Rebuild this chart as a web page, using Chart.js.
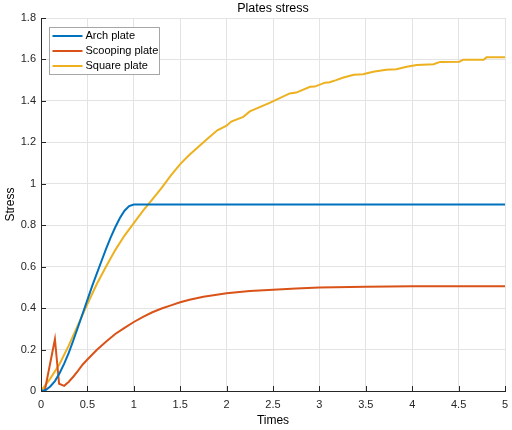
<!DOCTYPE html>
<html>
<head>
<meta charset="utf-8">
<script src="https://cdn.jsdelivr.net/npm/chart.js@4"></script>
<style>
  html, body { margin: 0; padding: 0; background: #fff; }
  #wrap { width: 512px; height: 430px; }
</style>
</head>
<body>
<div id="wrap"><canvas id="stressChart" width="512" height="430"></canvas></div>
<script>
// ================= DATA =================
const seriesNames = ["Arch plate", "Scooping plate", "Square plate"];
const seriesColors = ["#0072BD", "#D95319", "#EDB120"];

const archTimes  = [0, 0.05, 0.1, 0.15, 0.2, 0.25, 0.3, 0.35, 0.4, 0.45, 0.5, 0.55, 0.6, 0.65, 0.7, 0.75, 0.8, 0.85, 0.9, 0.95, 1.0, 5.0];
const archStress = [0, 0.005, 0.022, 0.048, 0.086, 0.132, 0.185, 0.246, 0.31, 0.375, 0.44, 0.505, 0.565, 0.625, 0.685, 0.74, 0.79, 0.835, 0.87, 0.892, 0.9, 0.9];

const scoopTimes  = [0, 0.04, 0.15, 0.195, 0.25, 0.3, 0.35, 0.4, 0.45, 0.5, 0.6, 0.7, 0.8, 0.9, 1.0, 1.1, 1.2, 1.3, 1.4, 1.5, 1.6, 1.75, 2.0, 2.25, 2.5, 2.75, 3.0, 3.5, 4.0, 5.0];
const scoopStress = [0, 0, 0.25, 0.035, 0.025, 0.045, 0.07, 0.098, 0.128, 0.152, 0.198, 0.238, 0.275, 0.305, 0.333, 0.358, 0.38, 0.398, 0.413, 0.428, 0.44, 0.455, 0.472, 0.482, 0.489, 0.495, 0.499, 0.503, 0.505, 0.505];

const squareTimes  = [0, 0.1, 0.2, 0.3, 0.4, 0.5, 0.6, 0.7, 0.8, 0.9, 1.0, 1.1, 1.2, 1.3, 1.4, 1.5, 1.6, 1.7, 1.8, 1.9, 2.0, 2.05, 2.18, 2.25, 2.47, 2.68, 2.75, 2.9, 2.95, 3.06, 3.11, 3.18, 3.26, 3.37, 3.47, 3.58, 3.72, 3.83, 3.94, 4.05, 4.23, 4.3, 4.51, 4.55, 4.77, 4.8, 5.0];
const squareStress = [0, 0.06, 0.13, 0.22, 0.32, 0.42, 0.515, 0.6, 0.68, 0.75, 0.81, 0.87, 0.925, 0.98, 1.04, 1.095, 1.14, 1.18, 1.22, 1.258, 1.28, 1.3, 1.323, 1.349, 1.392, 1.436, 1.44, 1.468, 1.469, 1.488, 1.49, 1.5, 1.513, 1.526, 1.529, 1.541, 1.55, 1.553, 1.565, 1.573, 1.577, 1.588, 1.589, 1.599, 1.599, 1.61, 1.61];

const xTicks = [0, 0.5, 1, 1.5, 2, 2.5, 3, 3.5, 4, 4.5, 5];
const yTicks = [0, 0.2, 0.4, 0.6, 0.8, 1, 1.2, 1.4, 1.6, 1.8];

const FONT = "'Liberation Sans', Arial, Helvetica, sans-serif";
const AXIS_COLOR = "#262626";
const GRID_COLOR = "#e3e3e3";

function toPoints(xs, ys) {
  return xs.map((x, i) => ({ x: x, y: ys[i] }));
}

const allSeries = [
  toPoints(archTimes, archStress),
  toPoints(scoopTimes, scoopStress),
  toPoints(squareTimes, squareStress)
];

// ================= MATLAB-ish decorations =================
// inward tick marks + boxed legend inside the plot
const matlabDecor = {
  id: "matlabDecor",
  afterDatasetsDraw(chart) {
    const ctx = chart.ctx;
    const area = chart.chartArea;
    const xs = chart.scales.x;
    const ys = chart.scales.y;

    ctx.save();
    ctx.strokeStyle = AXIS_COLOR;
    ctx.lineWidth = 1;
    ctx.beginPath();
    xTicks.forEach(v => {
      const px = Math.round(xs.getPixelForValue(v)) + 0.5;
      ctx.moveTo(px, area.bottom);
      ctx.lineTo(px, area.bottom - 5);
    });
    yTicks.forEach(v => {
      const py = Math.round(ys.getPixelForValue(v)) + 0.5;
      ctx.moveTo(area.left, py);
      ctx.lineTo(area.left + 5, py);
    });
    ctx.stroke();

    // legend box
    const bx = area.left + 8.5, by = area.top + 9.5;
    const bw = 110, bh = 47;
    ctx.fillStyle = "#fff";
    ctx.fillRect(bx, by, bw, bh);
    ctx.strokeStyle = "#a6a6a6";
    ctx.strokeRect(bx, by, bw, bh);

    ctx.font = "11px " + FONT;
    ctx.textBaseline = "middle";
    ctx.textAlign = "left";
    chart.data.datasets.forEach((ds, i) => {
      const rowY = by + 8.5 + i * 15;
      ctx.strokeStyle = ds.borderColor;
      ctx.lineWidth = 2;
      ctx.beginPath();
      ctx.moveTo(bx + 3, rowY);
      ctx.lineTo(bx + 33, rowY);
      ctx.stroke();
      ctx.fillStyle = "#000";
      ctx.fillText(ds.label, bx + 36, rowY);
    });
    ctx.restore();
  }
};

// ================= CHART =================
const ctx = document.getElementById("stressChart").getContext("2d");

new Chart(ctx, {
  type: "line",
  data: {
    datasets: seriesNames.map((name, i) => ({
      label: name,
      data: allSeries[i],
      borderColor: seriesColors[i],
      backgroundColor: seriesColors[i],
      borderWidth: 2,
      pointRadius: 0,
      tension: 0,
      fill: false
    }))
  },
  options: {
    responsive: false,
    animation: false,
    layout: { padding: { left: 0, right: 7, top: 0, bottom: 0 } },
    plugins: {
      legend: { display: false },
      tooltip: { enabled: false },
      title: {
        display: true,
        text: "Plates stress",
        fullSize: false,
        color: "#000",
        font: { family: FONT, size: 12.5, weight: "normal" },
        padding: { top: 1, bottom: 2 }
      }
    },
    scales: {
      x: {
        type: "linear",
        min: 0,
        max: 5,
        afterFit: s => { s.height = 39; s.paddingLeft = 0; s.paddingRight = 0; },
        afterBuildTicks: s => { s.ticks = xTicks.map(v => ({ value: v })); },
        ticks: {
          color: AXIS_COLOR,
          font: { family: FONT, size: 11 },
          padding: 7,
          maxRotation: 0,
          callback: v => String(Number(v.toFixed(1)))
        },
        grid: { color: GRID_COLOR, drawTicks: false },
        border: { color: AXIS_COLOR, width: 1 },
        title: {
          display: true,
          text: "Times",
          color: "#000",
          font: { family: FONT, size: 12 },
          padding: { top: 0, bottom: 2 }
        }
      },
      y: {
        type: "linear",
        min: 0,
        max: 1.8,
        afterFit: s => { s.width = 41; s.paddingTop = 0; s.paddingBottom = 0; },
        afterBuildTicks: s => { s.ticks = yTicks.map(v => ({ value: v })); },
        ticks: {
          color: AXIS_COLOR,
          font: { family: FONT, size: 11 },
          padding: 5,
          callback: v => String(Number(v.toFixed(1)))
        },
        grid: { color: GRID_COLOR, drawTicks: false },
        border: { color: AXIS_COLOR, width: 1 },
        title: {
          display: true,
          text: "Stress",
          color: "#000",
          font: { family: FONT, size: 12 },
          padding: { top: 3, bottom: 0 }
        }
      }
    }
  },
  plugins: [matlabDecor]
});
</script>
</body>
</html>
